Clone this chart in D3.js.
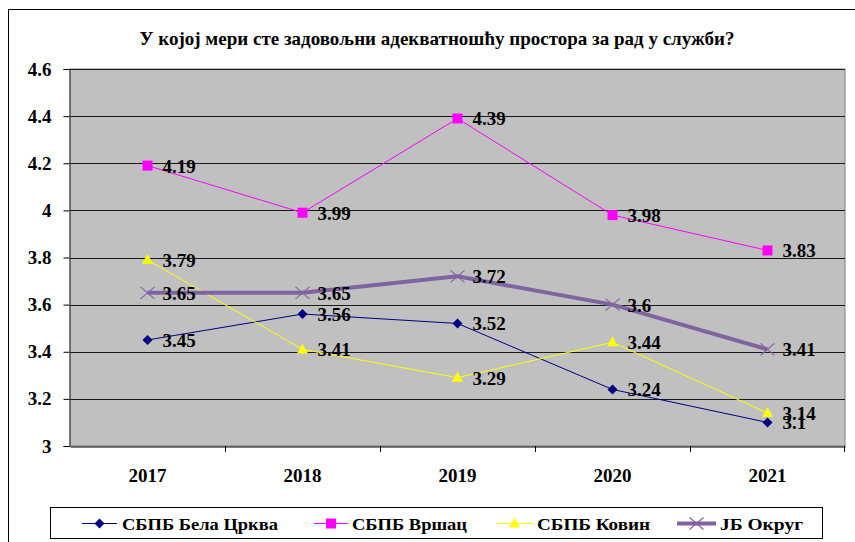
<!DOCTYPE html>
<html>
<head>
<meta charset="utf-8">
<script src="https://cdn.jsdelivr.net/npm/d3@7"></script>
<style>
body{margin:0;background:#fff;}
text{font-family:"Liberation Serif","Times New Roman",serif;font-weight:bold;fill:#000;}
</style>
</head>
<body>
<script>
var years=["2017","2018","2019","2020","2021"];
var belaCrkva=[3.45,3.56,3.52,3.24,3.1];
var vrsac=[4.19,3.99,4.39,3.98,3.83];
var kovin=[3.79,3.41,3.29,3.44,3.14];
var jbOkrug=[3.65,3.65,3.72,3.6,3.41];
var seriesNames=["СБПБ Бела Црква","СБПБ Вршац","СБПБ Ковин","ЈБ Округ"];
var yTicks=[3,3.2,3.4,3.6,3.8,4,4.2,4.4,4.6];
var title="У којој мери сте задовољни адекватношћу простора за рад у служби?";

var width=855, height=542;
var plotLeft=70, plotRight=845, plotTop=69, plotBottom=446;

var series=[
	{name:seriesNames[0],values:belaCrkva,color:"#000080",lw:1,marker:"diamond"},
	{name:seriesNames[1],values:vrsac,color:"#FF00FF",lw:1,marker:"square"},
	{name:seriesNames[2],values:kovin,color:"#FFFF00",lw:1,marker:"triangle"},
	{name:seriesNames[3],values:jbOkrug,color:"#8064A2",lw:4,marker:"cross"}
];

var svg=d3.select("body").append("svg").attr("width",width).attr("height",height);

// outer frame
svg.append("rect").attr("x",8.5).attr("y",9.5).attr("width",900).attr("height",600)
	.attr("fill","#fff").attr("stroke","#000").attr("stroke-width",1);

svg.append("text").attr("x",437).attr("y",45).attr("text-anchor","middle")
	.style("font-size","19px").attr("textLength",595).attr("lengthAdjust","spacingAndGlyphs")
	.text(title);

var x=d3.scaleBand().domain(years).range([plotLeft,plotRight]);
var y=d3.scaleLinear().domain([3,4.6]).range([plotBottom,plotTop]);

svg.append("rect").attr("x",plotLeft).attr("y",plotTop).attr("width",plotRight-plotLeft).attr("height",plotBottom-plotTop)
	.attr("fill","#C0C0C0").attr("stroke","#808080").attr("stroke-width",1);

svg.selectAll(".grid").data(yTicks.slice(1)).enter().append("line")
	.attr("x1",plotLeft).attr("x2",plotRight)
	.attr("y1",function(d){return Math.round(y(d))+0.5;})
	.attr("y2",function(d){return Math.round(y(d))+0.5;})
	.attr("stroke","#1a1a1a").attr("stroke-width",1);

// y axis
var yAxis=svg.append("g").attr("transform","translate("+(plotLeft-0.5)+",0)")
	.call(d3.axisLeft(y).tickValues(yTicks).tickSize(6).tickPadding(12).tickFormat(function(d){return String(+d.toFixed(1));}));
yAxis.select(".domain").attr("stroke","#333");
yAxis.selectAll(".tick line").attr("stroke","#000");
yAxis.selectAll("text").style("font-size","19px").attr("font-family",null);

// x axis
var xAxis=svg.append("g").attr("transform","translate(0,"+(plotBottom+0.5)+")")
	.call(d3.axisBottom(x).tickSize(0).tickPadding(22));
xAxis.select(".domain").attr("stroke","#000");
xAxis.selectAll("text").style("font-size","19px").attr("font-family",null);
svg.selectAll(".xtick").data(years.slice(1).concat(["end"])).enter().append("line")
	.attr("x1",function(d){return d=="end"?plotRight-0.5:Math.round(x(d))+0.5;})
	.attr("x2",function(d){return d=="end"?plotRight-0.5:Math.round(x(d))+0.5;})
	.attr("y1",plotBottom).attr("y2",plotBottom+6).attr("stroke","#000");

var line=d3.line().x(function(d,i){return x(years[i])+x.bandwidth()/2;}).y(function(d){return y(d);});

function drawMarker(g,type,color,cx,cy){
	if(type=="diamond"){
		g.append("path").attr("d","M"+cx+","+(cy-5)+"L"+(cx+5)+","+cy+"L"+cx+","+(cy+5)+"L"+(cx-5)+","+cy+"Z").attr("fill",color);
	}else if(type=="square"){
		g.append("rect").attr("x",cx-5).attr("y",cy-5).attr("width",10).attr("height",10).attr("fill",color);
	}else if(type=="triangle"){
		g.append("path").attr("d","M"+cx+","+(cy-6)+"L"+(cx+5.5)+","+(cy+4)+"L"+(cx-5.5)+","+(cy+4)+"Z").attr("fill",color);
	}else{
		g.append("path").attr("d","M"+(cx-7)+","+(cy-6)+"L"+(cx+7)+","+(cy+6)+"M"+(cx-7)+","+(cy+6)+"L"+(cx+7)+","+(cy-6))
			.attr("stroke",color).attr("stroke-width",1.2).attr("fill","none");
	}
}

var plot=svg.append("g");
series.forEach(function(s){
	plot.append("path").datum(s.values).attr("d",line).attr("fill","none")
		.attr("stroke",s.color).attr("stroke-width",s.lw);
});
series.forEach(function(s){
	var g=plot.append("g");
	s.values.forEach(function(v,i){
		drawMarker(g,s.marker,s.color,x(years[i])+x.bandwidth()/2,y(v));
	});
});
series.forEach(function(s){
	plot.selectAll(null).data(s.values).enter().append("text")
		.attr("x",function(d,i){return x(years[i])+x.bandwidth()/2+15;})
		.attr("y",function(d){return y(d)+7;})
		.style("font-size","19px")
		.text(function(d){return String(d);});
});

// legend
svg.append("rect").attr("x",50.5).attr("y",507.5).attr("width",772).attr("height",31)
	.attr("fill","#fff").attr("stroke","#000").attr("stroke-width",1);
var legLine=[[82,117],[314,348],[496,533],[677,716]];
var legText=[[122,156],[352,115],[537,113],[720,83]];
series.forEach(function(s,i){
	var g=svg.append("g");
	g.append("line").attr("x1",legLine[i][0]).attr("x2",legLine[i][1]).attr("y1",523.5).attr("y2",523.5)
		.attr("stroke",s.color).attr("stroke-width",s.lw);
	drawMarker(g,s.marker,s.color,(legLine[i][0]+legLine[i][1])/2,523.5);
	g.append("text").attr("x",legText[i][0]).attr("y",530).style("font-size","17px")
		.attr("textLength",legText[i][1]).attr("lengthAdjust","spacingAndGlyphs").text(s.name);
});
</script>
</body>
</html>
